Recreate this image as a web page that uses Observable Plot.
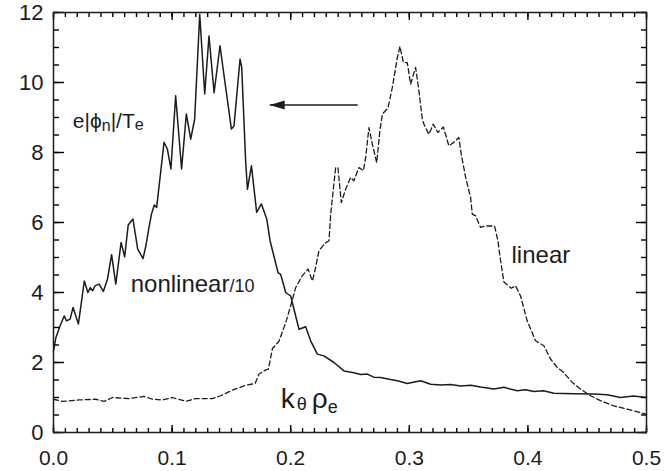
<!DOCTYPE html>
<html>
<head>
<meta charset="utf-8">
<script src="https://cdn.jsdelivr.net/npm/d3@7"></script>
<script src="https://cdn.jsdelivr.net/npm/@observablehq/plot@0.6"></script>
<style>
  html, body { margin: 0; padding: 0; background: #fff; }
</style>
</head>
<body>
<div id="chart"></div>
<script>
// Fluctuation spectrum e|phi_n|/T_e versus k_theta rho_e.
const ink = "#1c1c1c";
const font = "'Liberation Sans', Arial, Helvetica, sans-serif";

// Nonlinear spectrum (already divided by 10)
const nonlinearK = [0.000, 0.002, 0.005, 0.009, 0.011, 0.014, 0.0165, 0.021, 0.026, 0.029,
  0.031, 0.033, 0.035, 0.0385, 0.042, 0.0455, 0.049, 0.0525, 0.057, 0.060,
  0.063, 0.067, 0.071, 0.0755, 0.078, 0.080, 0.0826, 0.085, 0.087, 0.0932,
  0.096, 0.099, 0.103, 0.108, 0.112, 0.1157, 0.119, 0.1233, 0.1275, 0.1311,
  0.1354, 0.1404, 0.1444, 0.150, 0.1522, 0.1573, 0.1587, 0.162, 0.1635, 0.1669,
  0.1713, 0.1753, 0.1798, 0.1826, 0.1837, 0.1893, 0.1915, 0.1958, 0.200, 0.207,
  0.2126, 0.2168, 0.2225, 0.228, 0.2365, 0.2449, 0.2533, 0.259, 0.2646, 0.270,
  0.2758, 0.283, 0.290, 0.2983, 0.3095, 0.318, 0.3264, 0.335, 0.3433, 0.352,
  0.360, 0.3713, 0.3798, 0.391, 0.398, 0.405, 0.413, 0.4219, 0.4387, 0.4556,
  0.4669, 0.478, 0.489, 0.500];
const nonlinearV = [2.33, 2.71, 3.00, 3.33, 3.19, 3.24, 3.57, 3.10, 4.33, 4.00,
  4.14, 4.05, 4.19, 4.24, 4.03, 4.38, 5.08, 4.24, 5.43, 5.02,
  5.93, 6.10, 5.24, 4.97, 5.35, 5.76, 6.24, 6.50, 6.43, 8.29,
  8.10, 7.53, 9.62, 7.53, 9.10, 8.38, 8.95, 11.95, 9.67, 11.33,
  9.71, 11.05, 10.05, 8.67, 8.76, 10.67, 10.43, 7.76, 6.95, 7.62,
  6.29, 6.53, 6.10, 5.48, 5.33, 4.57, 4.52, 4.00, 3.90, 2.95,
  3.02, 2.62, 2.24, 2.19, 2.00, 1.76, 1.71, 1.66, 1.67, 1.58,
  1.57, 1.52, 1.48, 1.40, 1.48, 1.38, 1.36, 1.37, 1.33, 1.35,
  1.30, 1.24, 1.29, 1.19, 1.22, 1.17, 1.19, 1.12, 1.11, 1.10,
  1.08, 1.00, 1.04, 1.00];

// Linear growth spectrum
const linearK = [0.000, 0.0076, 0.0216, 0.0356, 0.0427, 0.0497, 0.0637, 0.0764, 0.0834, 0.0919,
  0.1003, 0.1115, 0.120, 0.134, 0.141, 0.1508, 0.162, 0.170, 0.1733, 0.179,
  0.1812, 0.1846, 0.190, 0.1958, 0.200, 0.2042, 0.2098, 0.2146, 0.2183, 0.221,
  0.2238, 0.2286, 0.2323, 0.2337, 0.2379, 0.2398, 0.2427, 0.2463, 0.2505, 0.2533,
  0.2575, 0.2613, 0.2632, 0.266, 0.2688, 0.2725, 0.2752, 0.2773, 0.282, 0.2857,
  0.2899, 0.2921, 0.295, 0.2983, 0.3011, 0.3053, 0.3081, 0.311, 0.3123, 0.3165,
  0.3202, 0.3241, 0.3287, 0.3334, 0.3376, 0.3418, 0.3438, 0.3475, 0.3517, 0.3531,
  0.3559, 0.3601, 0.3643, 0.3719, 0.3747, 0.377, 0.3798, 0.386, 0.3896, 0.3938,
  0.3994, 0.4065, 0.4135, 0.4191, 0.4247, 0.4303, 0.4374, 0.4444, 0.4528, 0.4612,
  0.4724, 0.4837, 0.4949, 0.500];
const linearV = [0.95, 0.89, 0.93, 0.95, 0.89, 1.00, 0.97, 1.03, 0.95, 0.93,
  1.00, 0.89, 0.97, 0.97, 1.05, 1.21, 1.35, 1.40, 1.67, 1.79,
  1.81, 2.40, 2.60, 3.14, 3.62, 4.14, 4.48, 4.67, 4.33, 4.71,
  5.19, 5.40, 5.48, 6.24, 7.57, 7.57, 6.57, 6.95, 7.29, 7.19,
  7.57, 7.48, 7.86, 8.71, 8.24, 7.71, 8.62, 9.10, 9.27, 9.86,
  10.71, 11.03, 10.57, 10.57, 9.95, 10.43, 9.76, 8.95, 8.81, 8.52,
  8.81, 8.57, 8.73, 8.19, 8.29, 8.43, 7.95, 7.29, 6.71, 6.24,
  6.19, 5.86, 5.90, 5.90, 5.48, 4.90, 4.30, 4.12, 4.19, 3.90,
  3.19, 2.62, 2.48, 2.10, 1.86, 1.71, 1.43, 1.24, 1.05, 0.91,
  0.76, 0.67, 0.57, 0.52];

// Axis ticks and their labels
const xDomain = [0, 0.5];
const yDomain = [0, 12];
const xTicks = [0, 0.1, 0.2, 0.3, 0.4, 0.5];
const xTickLabels = ["0.0", "0.1", "0.2", "0.3", "0.4", "0.5"];
const yTicks = [0, 2, 4, 6, 8, 10, 12];
const yTickLabels = ["0", "2", "4", "6", "8", "10", "12"];

// Annotations: text, anchor position (left end of the baseline)
const noteText = ["e|ϕn|/Te", "nonlinear/10", "linear", "kθ ρe"];
const noteK = [0.0163, 0.0651, 0.3862, 0.1916];
const noteV = [8.69, 4.02, 4.85, 0.71];
const noteSize = [21, 24, 24, 28];

// Arrow pointing from the linear peak toward the nonlinear peak
const arrowK = [0.2565, 0.1823];
const arrowV = [9.36, 9.36];

const nonlinear = nonlinearK.map((k, i) => ({k, v: nonlinearV[i]}));
const linear = linearK.map((k, i) => ({k, v: linearV[i]}));
const notes = noteText.map((t, i) => ({t, k: noteK[i], v: noteV[i], s: noteSize[i]}));
const arrow = [{k1: arrowK[0], v1: arrowV[0], k2: arrowK[1], v2: arrowV[1]}];

const leftHead = {
  draw(context) {
    context.moveTo(0, 0);
    context.lineTo(15, -4.5);
    context.lineTo(15, 4.5);
    context.closePath();
  }
};

// Tick-only axes, shifted by their own length so the ticks point into the frame
const noText = () => "";
const tickAxisX = (anchor, ticks, len) => Plot.axisX({
  anchor, ticks, tickSize: len, dy: anchor === "bottom" ? -len : len,
  tickFormat: noText, label: null, stroke: "#000", strokeWidth: 1.4
});
const tickAxisY = (anchor, ticks, len) => Plot.axisY({
  anchor, ticks, tickSize: len, dx: anchor === "left" ? len : -len,
  tickFormat: noText, label: null, stroke: "#000", strokeWidth: 1.4
});

const chart = Plot.plot({
  width: 664,
  height: 471,
  marginLeft: 53,
  marginRight: 18,
  marginTop: 12,
  marginBottom: 39,
  style: {fontFamily: font, fontSize: "22px", color: ink, background: "#fff"},
  x: {domain: xDomain, label: null},
  y: {domain: yDomain, label: null},
  marks: [
    Plot.line(linear, {x: "k", y: "v", stroke: ink, strokeWidth: 1.3, strokeDasharray: "5,3"}),
    Plot.line(nonlinear, {x: "k", y: "v", stroke: ink, strokeWidth: 1.5}),

    // minor ticks: every 0.01 in x, every 0.5 in y
    tickAxisX("bottom", 50, 4), tickAxisX("top", 50, 4),
    tickAxisY("left", 24, 6), tickAxisY("right", 24, 6),
    // major ticks
    tickAxisX("bottom", xTicks, 7), tickAxisX("top", xTicks, 7),
    tickAxisY("left", yTicks, 11), tickAxisY("right", yTicks, 11),

    // tick labels
    Plot.axisX(xTicks, {anchor: "bottom", tickSize: 0, tickPadding: 18, label: null, fill: ink,
      fontSize: 21, tickFormat: d => xTickLabels[xTicks.indexOf(d)]}),
    Plot.axisY(yTicks, {anchor: "left", tickSize: 0, tickPadding: 10, label: null, fill: ink,
      tickFormat: d => yTickLabels[yTicks.indexOf(d)]}),

    Plot.frame({stroke: ink, strokeWidth: 1.5}),

    // arrow
    Plot.link(arrow, {x1: "k1", y1: "v1", x2: "k2", y2: "v2", stroke: ink, strokeWidth: 1.5}),
    Plot.dot(arrow, {x: "k2", y: "v2", symbol: leftHead, fill: ink, stroke: null, r: 5}),

    // annotations
    ...notes.map(n => Plot.text([n], {x: "k", y: "v", text: "t", fontSize: n.s, fill: ink,
      textAnchor: "start", lineAnchor: "bottom"}))
  ]
});

// Subscript and small-type parts of the annotations
const richParts = {
  "e|ϕn|/Te": [{text: "e|ϕ"}, {text: "n", size: 16, drop: 3}, {text: "|/T"}, {text: "e", size: 16, drop: 2}],
  "nonlinear/10": [{text: "nonlinear"}, {text: "/10", size: 18}],
  "kθ ρe": [{text: "k"}, {text: "θ", size: 18, drop: 2, dx: 2}, {text: "ρ", dx: 5}, {text: "e", size: 18, drop: 5}]
};
d3.select(chart).selectAll("text").each(function () {
  const parts = richParts[this.textContent];
  if (!parts) return;
  const t = d3.select(this);
  t.text(null);
  let shift = 0;
  for (const p of parts) {
    const s = t.append("tspan").text(p.text);
    if (p.size) s.attr("font-size", p.size);
    const drop = p.drop || 0;
    if (drop - shift) s.attr("dy", drop - shift);
    if (p.dx) s.attr("dx", p.dx);
    shift = drop;
  }
});

document.getElementById("chart").appendChild(chart);
</script>
</body>
</html>
